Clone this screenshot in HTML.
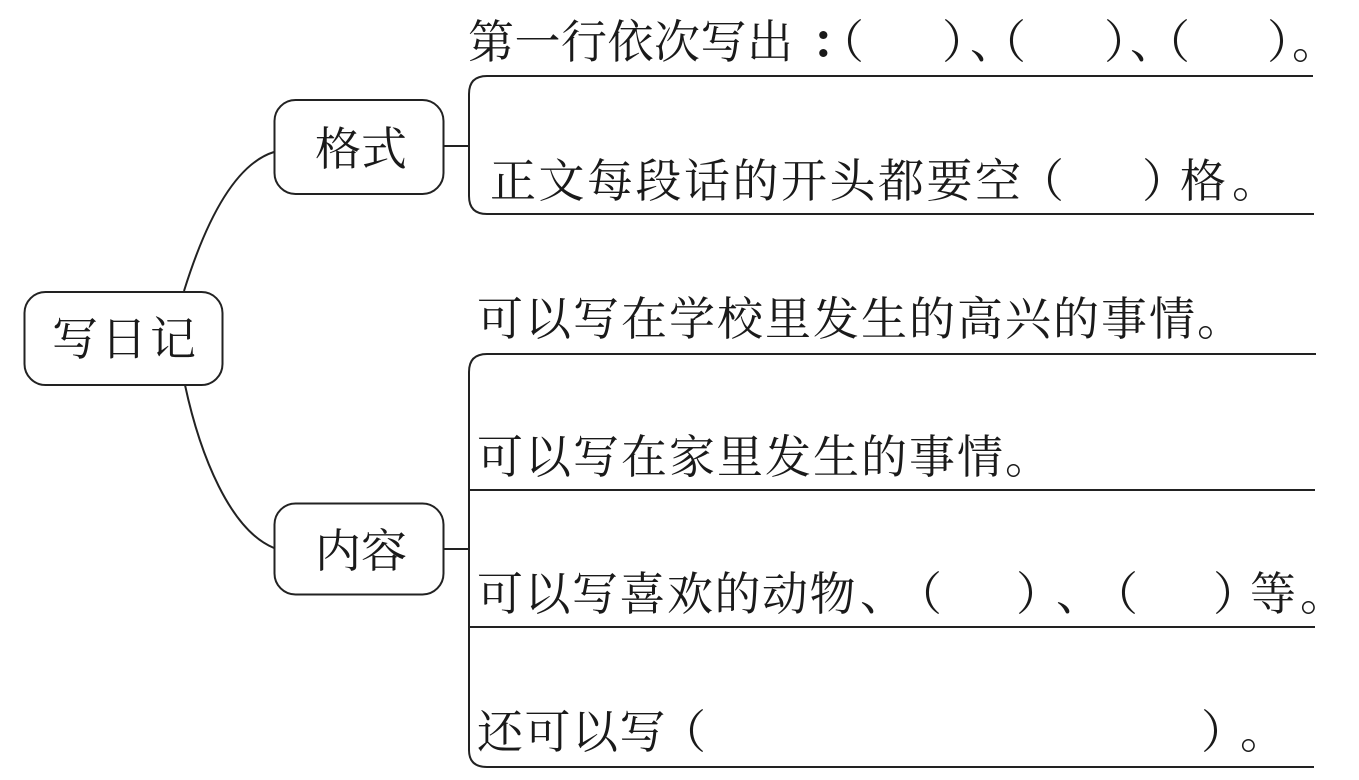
<!DOCTYPE html>
<html lang="zh">
<head>
<meta charset="utf-8">
<style>
html,body{margin:0;padding:0;background:#fff;width:1359px;height:780px;overflow:hidden}
svg{display:block}
text{font-family:"Noto Serif CJK SC",serif;font-size:46px;fill:#1a1a1a;font-weight:400}
.l{fill:none;stroke:#222;stroke-width:2}
</style>
</head>
<body>
<svg width="1359" height="780" viewBox="0 0 1359 780" xmlns="http://www.w3.org/2000/svg">
<rect width="1359" height="780" fill="#fff"/>
<path class="l" d="M184 291C203 230 232 165 274 152"/>
<path class="l" d="M185 385C200 455 230 530 274 548"/>
<rect class="l" x="24.500" y="292" width="198" height="93" rx="21"/>
<rect class="l" x="274.500" y="100" width="169" height="94" rx="21"/>
<rect class="l" x="274.500" y="503.500" width="169" height="91" rx="21"/>
<path class="l" d="M444 146H469"/>
<path class="l" d="M1313 76H487Q469 76 469 94V196Q469 214 487 214H1314"/>
<path class="l" d="M444 549H469"/>
<path class="l" d="M1316 354H487Q469 354 469 372V750Q469 767 487 767H1314"/>
<path class="l" d="M469 490H1315M469 627H1315"/>

<text x="52" y="355" style="letter-spacing:3px">写日记</text>
<text x="315" y="165">格式</text>
<text x="315" y="567">内容</text>

<text x="468" y="58" style="letter-spacing:.5px">第一行依次写出</text>
<text x="811" y="58" style="font-weight:700">：</text>
<text x="818" y="58">（</text>
<text x="942" y="58">）</text>
<text x="970" y="58">、</text>
<text x="980" y="58">（</text>
<text x="1104" y="58">）</text>
<text x="1130" y="58">、</text>
<text x="1144" y="58">（</text>
<text x="1267" y="58">）</text>
<text x="1292" y="58">。</text>

<text x="490" y="197" style="letter-spacing:2.500px">正文每段话的开头都要空</text>
<text x="1018" y="197">（</text>
<text x="1142" y="197">）</text>
<text x="1180" y="197">格</text>
<text x="1232" y="197">。</text>

<text x="477" y="335" style="letter-spacing:2px">可以写在学校里发生的高兴的事情。</text>
<text x="477" y="473" style="letter-spacing:2px">可以写在家里发生的事情。</text>

<text x="477" y="610" style="letter-spacing:1.500px">可以写喜欢的动物</text>
<text x="860" y="610">、</text>
<text x="896" y="610">（</text>
<text x="1016" y="610">）</text>
<text x="1056" y="610">、</text>
<text x="1092" y="610">（</text>
<text x="1213" y="610">）</text>
<text x="1250" y="610">等</text>
<text x="1300" y="610">。</text>

<text x="477" y="748" style="letter-spacing:1.500px">还可以写</text>
<text x="660" y="748">（</text>
<text x="1201" y="748">）</text>
<text x="1240" y="748">。</text>
</svg>
</body>
</html>
